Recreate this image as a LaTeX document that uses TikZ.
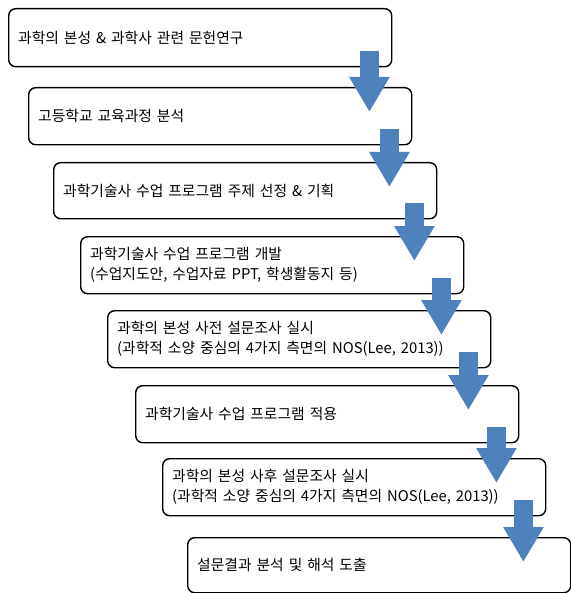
\documentclass[tikz,border=0pt]{standalone}
\usepackage{fontspec}
\newfontfamily\kr{Noto Sans CJK KR}
\usetikzlibrary{calc,arrows.meta}
\definecolor{arrowblue}{RGB}{79,129,189}
\tikzset{
  stepbox/.style={draw=black, line width=1.4bp, rounded corners=7bp, fill=white,
    anchor=north west, text width=364bp, inner xsep=9.5bp, inner ysep=0bp, align=left,
    font=\kr\fontsize{14.8bp}{20bp}\selectfont},
  flowarrow/.style={arrowblue, line width=19bp,
    -{Triangle[width=38bp,length=35bp]}}
}
\begin{document}
\begin{tikzpicture}[x=1bp,y=-1bp]
\useasboundingbox (0,0) rectangle (571,593);
\node[stepbox, minimum height=58bp] (b1) at (8,8) {과학의 본성 \& 과학사 관련 문헌연구};
\node[stepbox, minimum height=57bp] (b2) at (28,87) {고등학교 교육과정 분석};
\node[stepbox, minimum height=56bp] (b3) at (53,162) {과학기술사 수업 프로그램 주제 선정 \& 기획};
\node[stepbox, minimum height=57bp] (b4) at (80,236) {과학기술사 수업 프로그램 개발\\(수업지도안, 수업자료 PPT, 학생활동지 등)};
\node[stepbox, minimum height=57bp] (b5) at (107,310) {과학의 본성 사전 설문조사 실시\\(과학적 소양 중심의 4가지 측면의 NOS(Lee, 2013))};
\node[stepbox, minimum height=57bp] (b6) at (135,385) {과학기술사 수업 프로그램 적용};
\node[stepbox, minimum height=57bp] (b7) at (162,458) {과학의 본성 사후 설문조사 실시\\(과학적 소양 중심의 4가지 측면의 NOS(Lee, 2013))};
\node[stepbox, minimum height=55bp] (b8) at (187,537) {설문결과 분석 및 해석 도출};
\foreach \i/\j in {1/2,2/3,3/4,4/5,5/6,6/7,7/8}{
  \draw[flowarrow] ($(b\i.south east)+(-23,-16)$) coordinate (a\i) -- ($(a\i |- b\j.north)+(0,25)$);
}
\end{tikzpicture}
\end{document}
